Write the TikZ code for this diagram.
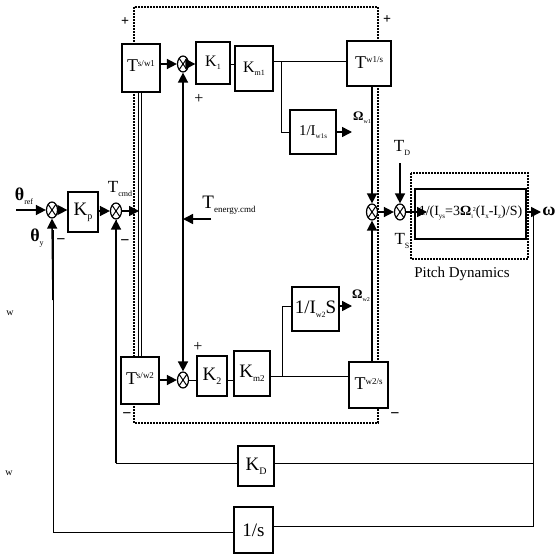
\documentclass[tikz,border=0pt]{standalone}
\usepackage{fontspec}
\setmainfont{Liberation Serif}
\usetikzlibrary{arrows.meta,shapes.geometric}
\newcommand\fsz[1]{\fontsize{#1}{#1}\selectfont}
\newcommand\mysup[2][9]{\raisebox{0.33em}{\fsz{#1}#2}}
\newcommand\mysub[2][8]{\raisebox{-0.2em}{\fsz{#1}#2}}
\begin{document}
\begin{tikzpicture}[x=1pt,y=-1pt,
  blk/.style={draw, line width=1.3pt, fill=white, inner sep=0pt, font=\fsz{18}},
  sumj/.style={ellipse, draw, line width=1.2pt, minimum width=11pt, minimum height=16pt, inner sep=0pt, fill=white,
    path picture={\draw[line width=1pt] (path picture bounding box.north west) -- (path picture bounding box.south east)
      (path picture bounding box.north east) -- (path picture bounding box.south west);}},
  sig/.style={line width=1.5pt},
  arr/.style={sig, -{Triangle[length=10pt,width=10pt]}},
  barr/.style={sig, {Triangle[length=10pt,width=10pt]}-{Triangle[length=10pt,width=10pt]}},
  thn/.style={line width=1pt},
  dots/.style={line width=1.8pt, dash pattern=on 1.8pt off 1.2pt},
  lab/.style={inner sep=0pt}]
\useasboundingbox (0,0) rectangle (556,554);
% dotted frames
\draw[dots] (134,7) rectangle (378,423);
\draw[dots] (411,173) rectangle (528,259);
% blocks
\node[blk, minimum width=38pt, minimum height=48pt] (Tsw1) at (141,68) {\raisebox{4pt}{T\mysup{s/w1}}};
\node[blk, minimum width=34pt, minimum height=42pt, font=\fsz{16}] (K1) at (213,63) {K\mysub{1}};
\node[blk, minimum width=38pt, minimum height=45pt, font=\fsz{16}] (Km1) at (254,68.5) {K\mysub{m1}};
\node[blk, minimum width=44pt, minimum height=45pt] (Tw1s) at (369,63.5) {\raisebox{2pt}{T\mysup{w1/s}}};
\node[blk, minimum width=46pt, minimum height=44pt, font=\fsz{15}] (Iw1) at (313,132) {1/I\mysub[7]{w1s}};
\node[blk, minimum width=30pt, minimum height=40pt, font=\fsz{19}] (Kp) at (83,212) {K\mysub[10]{p}};
\node[blk, minimum width=111pt, minimum height=50pt, font=\fsz{14}] (Pd) at (470.5,214)
  {\raisebox{6pt}{1/(I\mysub[7]{ys}=3\textbf{Ω}\mysub[6]{i}\mysup[6]{2}(I\mysub[7]{x}-I\mysub[7]{z})/S)}};
\node[blk, minimum width=47pt, minimum height=44pt, font=\fsz{19}] (Iw2) at (315.5,309) {1/I\mysub{w2}S};
\node[blk, minimum width=38pt, minimum height=47pt] (Tsw2) at (140,380.5) {\raisebox{4pt}{T\mysup{s/w2}}};
\node[blk, minimum width=30pt, minimum height=40pt, font=\fsz{19}] (K2) at (212,376) {K\mysub[10]{2}};
\node[blk, minimum width=36pt, minimum height=45pt, font=\fsz{19}] (Km2) at (252,373.5) {K\mysub[9]{m2}};
\node[blk, minimum width=39pt, minimum height=46pt] (Tw2s) at (368.5,385) {\raisebox{2pt}{T\mysup{w2/s}}};
\node[blk, minimum width=36pt, minimum height=40pt, font=\fsz{19}] (KD) at (256,466) {K\mysub[10]{D}};
\node[blk, minimum width=39pt, minimum height=46pt, font=\fsz{19}] (Int) at (253.5,530) {1/s};
% summing junctions
\node[sumj] (S1) at (52,210) {};
\node[sumj] (S2) at (116,211) {};
\node[sumj] (S3) at (183,64) {};
\node[sumj] (S4) at (183,380) {};
\node[sumj] (S5) at (372,212) {};
\node[sumj] (S6) at (400,212) {};
% free ends
\coordinate (thin) at (16,210);
\coordinate (te) at (211,219);
\coordinate (td) at (400,163);
\coordinate (pin) at (427,212);
\coordinate (wout) at (541,212);
\coordinate (o1) at (352,132);
\coordinate (o2) at (352,306);
\coordinate (dl) at (139,211);
\coordinate (b1) at (281,61);
\coordinate (b2) at (282,376);
\coordinate (fb) at (533,212);
% left part
\draw[arr] (thin) -- (S1.west);
\draw[arr] (S1.east) -- (Kp.west |- S1);
\draw[arr] (Kp.east |- S2) -- (S2.west);
\draw[arr] (S2.east) -- (dl);
\draw[thn, double distance=1.2pt] (Tsw1.south -| 140,0) -- (Tsw2.north -| 140,0);
% top row
\draw[arr] (Tsw1.east |- S3) -- (S3.west);
\draw[arr] (S3.east) -- (K1.west |- S3);
\draw[thn] (K1.east |- S3) -- (Km1.west |- S3);
\draw[thn] (Km1.east |- b1) -- (Tw1s.west |- b1);
\draw[thn] (b1) |- (Iw1.west);
\draw[arr] (Iw1.east) -- (o1);
\draw[barr] (S3.south) -- (S4.north);
\draw[arr] (te) -- (te -| S3);
% bottom row
\draw[arr] (Tsw2.east |- S4) -- (S4.west);
\draw[thn] (S4.east) -- (K2.west |- S4);
\draw[thn] (K2.east |- S4) -- (Km2.west |- S4);
\draw[thn] (Km2.east |- b2) -- (Tw2s.west |- b2);
\draw[thn] (b2) |- (Iw2.west |- o2);
\draw[arr] (Iw2.east |- o2) -- (o2);
% right part
\draw[arr] (S5 |- Tw1s.south) -- (S5.north);
\draw[arr] (S5 |- Tw2s.north) -- (S5.south);
\draw[arr] (S5.east) -- (S6.west);
\draw[arr] (td) -- (S6.north);
\draw[arr] (S6.east) -- (pin);
\draw[arr] (Pd.east |- wout) -- (wout);
% feedback
\draw[thn] (fb) |- (Int.east |- 0,526);
\draw[thn] (fb |- 0,463) -- (KD.east |- 0,463);
\draw[thn] (KD.west |- 0,463) -| (S2.south);
\draw[arr] (116,463) -- (S2.south);
\draw[thn] (Int.west |- 0,532) -| (53,230);
\draw[arr] (53,300) -- (S1.south);
% labels
\node[lab, font=\fsz{18}] (lref) at (24,196) {\textbf{θ}\mysub[8]{ref}};
\node[lab, font=\fsz{18}] (ly) at (37,238) {\textbf{θ}\mysub[8]{y}};
\node[lab, font=\fsz{16}] (lm1) at (61,242) {\textbf{−}};
\node[lab, font=\fsz{16}] (lm2) at (125,243) {\textbf{−}};
\node[lab, font=\fsz{17}] (lcmd) at (120,189) {T\mysub[8]{cmd}};
\node[lab, font=\fsz{19}] (len) at (229,205) {T\mysub[9]{energy.cmd}};
\node[lab, font=\fsz{16}] (lp1) at (199,99) {+};
\node[lab, font=\fsz{16}] (lp2) at (198,347) {+};
\node[lab, font=\fsz{14}] (lpp1) at (125,22) {\textbf{+}};
\node[lab, font=\fsz{14}] (lpp2) at (387,20) {\textbf{+}};
\node[lab, font=\fsz{16}] (lmm1) at (127,416) {\textbf{−}};
\node[lab, font=\fsz{16}] (lmm2) at (395,416) {\textbf{−}};
\node[lab, font=\fsz{13}] (lo1) at (362,118) {\textbf{Ω}\mysub[6]{w1}};
\node[lab, font=\fsz{13}] (lo2) at (361,296) {\textbf{Ω}\mysub[6]{w2}};
\node[lab, font=\fsz{17}] (lTD) at (402,148) {T\mysub[8]{D}};
\node[lab, font=\fsz{17}] (lTS) at (402,241) {T\mysub[8]{S}};
\node[lab, font=\fsz{18}] (lw) at (549,211) {\textbf{ω}};
\node[lab, font=\fsz{15}] (lpd) at (462,274) {Pitch Dynamics};
\node[lab, font=\fsz{10}] (lx1) at (10,313) {w};
\node[lab, font=\fsz{10}] (lx2) at (9,473) {w};
\end{tikzpicture}
\end{document}
